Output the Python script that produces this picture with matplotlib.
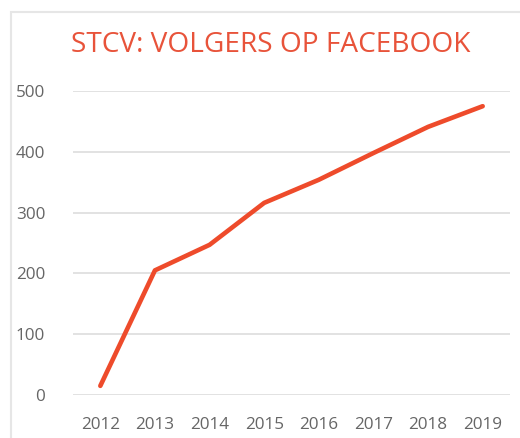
import matplotlib.pyplot as plt
from matplotlib.patches import Rectangle

# ----- data -----
years = ["2012", "2013", "2014", "2015", "2016", "2017", "2018", "2019"]
volgers = [15, 205, 247, 316, 354, 398, 441, 475]
yticks = [0, 100, 200, 300, 400, 500]

plt.rcParams['font.family'] = ['Open Sans', 'DejaVu Sans']

fig = plt.figure(figsize=(5.2, 4.38), dpi=100)
ax = fig.add_axes([73/520, 1 - 395/438, 437/520, 304/438])

# light frame around the card
fig.patches.append(Rectangle((11/520, -0.1), 1.2, 1 - 12/438 + 0.1, transform=fig.transFigure,
                             fill=False, edgecolor='#e6e6e6', linewidth=1.5))

x = range(len(years))
ax.plot(x, volgers, color='#ee4b2b', linewidth=3.3, solid_capstyle='round')

ax.set_xlim(-0.5, len(years) - 0.5)
ax.set_ylim(0, 500)
ax.set_xticks(list(x))
ax.set_xticklabels(years)
ax.set_yticks(yticks)
ax.grid(axis='y', color='#dddddd', linewidth=1.2)
ax.set_axisbelow(True)
for s in ax.spines.values():
    s.set_visible(False)
ax.tick_params(length=0, labelsize=12.3, labelcolor='#666666')
ax.tick_params(axis='y', pad=20)
ax.tick_params(axis='x', pad=16)

fig.text(271/520, 1 - 45/438, "STCV: VOLGERS OP FACEBOOK", ha='center', va='center',
         fontsize=20.2, color='#e8533a')

fig.savefig("out.png", dpi=100)
